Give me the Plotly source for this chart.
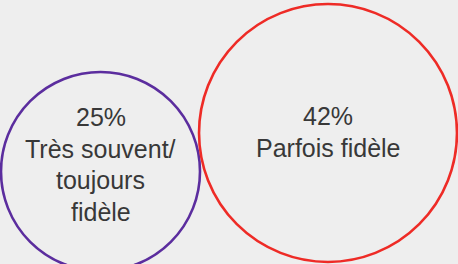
import math
import plotly.graph_objects as go

# ---- data ----
categories = ["Très souvent/<br>toujours<br>fidèle", "Parfois fidèle"]
values = [25, 42]
value_labels = ["25%", "42%"]

# ---- layout / style constants ----
W, H = 458, 264
centers_x = [100.5, 328.0]
centers_y = [171.5, 133.0]
scale = 19.9  # px per sqrt(percent)
colors = ["#5b2d9e", "#ee2b26"]
first_line_y = [117, 116]
line_step = 31.5
font = dict(family="Liberation Sans, Arial, sans-serif", size=25, color="#383838")

fig = go.Figure()
fig.add_trace(go.Scatter(x=[0, W], y=[0, H], mode="markers",
                         marker=dict(opacity=0), hoverinfo="skip", showlegend=False))

shapes = []
annotations = []
for i, v in enumerate(values):
    r = scale * math.sqrt(v)
    cx, cy = centers_x[i], centers_y[i]
    shapes.append(dict(type="circle", xref="x", yref="y",
                       x0=cx - r, x1=cx + r, y0=cy - r, y1=cy + r,
                       line=dict(color=colors[i], width=2.6),
                       fillcolor="rgba(0,0,0,0)"))
    lines = [value_labels[i]] + categories[i].split("<br>")
    for j, t in enumerate(lines):
        annotations.append(dict(x=cx, y=first_line_y[i] + j * line_step,
                                xref="x", yref="y", text=t, showarrow=False,
                                xanchor="center", yanchor="middle", font=font))

fig.update_layout(
    width=W, height=H,
    margin=dict(l=0, r=0, t=0, b=0),
    paper_bgcolor="#eeeeee", plot_bgcolor="#eeeeee",
    xaxis=dict(range=[0, W], visible=False, fixedrange=True),
    yaxis=dict(range=[H, 0], visible=False, fixedrange=True),
    shapes=shapes, annotations=annotations,
    showlegend=False,
)
fig.write_html("out.html", config={"displayModeBar": False},
               post_script="document.body.style.margin='0';document.body.style.overflow='hidden';document.body.style.background='#eeeeee';")
